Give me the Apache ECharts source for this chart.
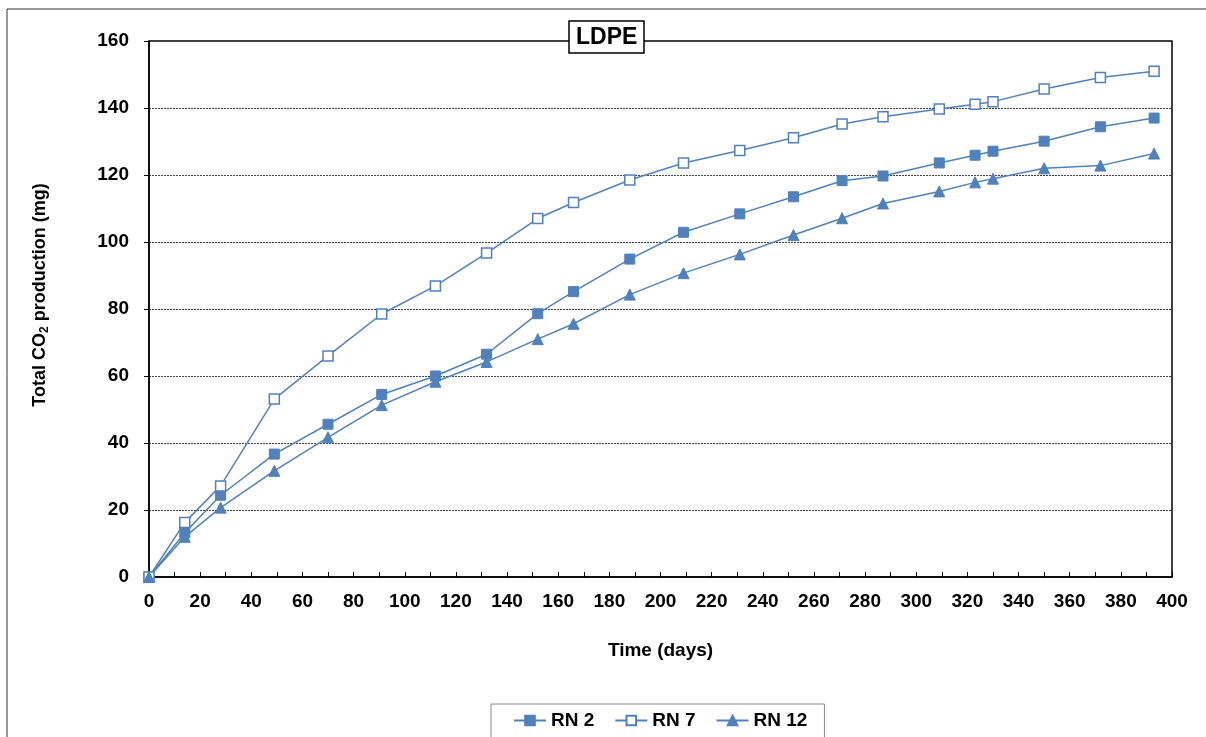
<!DOCTYPE html>
<html>
<head>
<meta charset="utf-8">
<script src="https://cdn.jsdelivr.net/npm/echarts@6/dist/echarts.min.js"></script>
<style>
html,body{margin:0;padding:0;background:#fff;}
#chart{width:1206px;height:737px;}
</style>
</head>
<body>
<div id="chart"></div>
<script>
const days = [0, 14, 28, 49, 70, 91, 112, 132, 152, 166, 188, 209, 231, 252, 271, 287, 309, 323, 330, 350, 372, 393];
const rn2  = [0, 13.2, 24.4, 36.7, 45.6, 54.5, 60.0, 66.5, 78.6, 85.2, 94.9, 102.9, 108.4, 113.5, 118.3, 119.7, 123.6, 125.9, 127.1, 130.1, 134.4, 137.0];
const rn7  = [0, 16.3, 27.2, 53.1, 66.0, 78.5, 86.9, 96.7, 107.0, 111.8, 118.5, 123.6, 127.3, 131.1, 135.2, 137.4, 139.7, 141.1, 141.9, 145.7, 149.1, 151.0];
const rn12 = [0, 12.0, 20.7, 31.7, 41.7, 51.3, 58.3, 64.2, 71.0, 75.6, 84.3, 90.7, 96.3, 102.1, 107.1, 111.5, 115.1, 117.8, 118.9, 122.0, 122.8, 126.4];
const seriesNames = ['RN 2', 'RN 7', 'RN 12'];
const titleText = 'LDPE';
const xName = 'Time (days)';

const FONT = '"Liberation Sans", Arial, sans-serif';
const BLUE = '#4F81BD';
const pair = (arr) => days.map((d, i) => [d, arr[i]]);

const chart = echarts.init(document.getElementById('chart'), null, {renderer: 'canvas'});
chart.setOption({
  animation: false,
  backgroundColor: '#fff',
  textStyle: {fontFamily: FONT},
  title: {
    text: titleText,
    left: 569, top: 21,
    padding: [4, 7, 3, 7],
    backgroundColor: '#fff',
    borderColor: '#000', borderWidth: 1.5,
    textStyle: {fontFamily: FONT, fontSize: 23, fontWeight: 'bold', color: '#000', lineHeight: 25}
  },
  graphic: [{
    type: 'rect', z: -10, silent: true,
    shape: {x: 7, y: 9, width: 1300, height: 800},
    style: {fill: 'none', stroke: '#333', lineWidth: 1}
  }],
  legend: {
    left: 491, top: 704,
    padding: [7, 17, 20, 22],
    itemGap: 20,
    itemWidth: 32, itemHeight: 12,
    borderColor: '#888', borderWidth: 1,
    backgroundColor: '#fff',
    textStyle: {fontFamily: FONT, fontSize: 19, fontWeight: 'bold', color: '#000'},
    data: seriesNames
  },
  grid: {
    left: 149, right: 34, top: 41, bottom: 160,
    show: true, borderColor: '#000', borderWidth: 1.5, backgroundColor: 'transparent'
  },
  xAxis: {
    type: 'value', min: 0, max: 400, interval: 20,
    name: xName, nameLocation: 'middle', nameGap: 64,
    nameTextStyle: {fontFamily: FONT, fontSize: 19, fontWeight: 'bold', color: '#000'},
    axisLine: {show: true, onZero: false, lineStyle: {color: '#000', width: 1.5}},
    axisTick: {show: true, inside: true, length: 5, lineStyle: {color: '#000', width: 1}},
    minorTick: {show: true, splitNumber: 2, length: 5, lineStyle: {color: '#000', width: 1}},
    axisLabel: {fontFamily: FONT, fontSize: 19, fontWeight: 'bold', color: '#000', margin: 15},
    splitLine: {show: false}
  },
  yAxis: {
    type: 'value', min: 0, max: 160, interval: 20,
    name: '{n|Total CO}{s|2}{n| production (mg)}', nameLocation: 'middle', nameGap: 98,
    nameRotate: 90,
    nameTextStyle: {
      fontFamily: FONT, fontSize: 18, fontWeight: 'bold', color: '#000',
      padding: [0, 0, 0, 28],
      rich: {
        n: {fontFamily: FONT, fontSize: 18, fontWeight: 'bold', color: '#000'},
        s: {fontFamily: FONT, fontSize: 12, fontWeight: 'bold', color: '#000', verticalAlign: 'bottom', padding: [9, 0, 0, 0]}
      }
    },
    axisLine: {show: true, lineStyle: {color: '#000', width: 1.5}},
    axisTick: {show: true, inside: false, length: 5, lineStyle: {color: '#000', width: 1}},
    axisLabel: {fontFamily: FONT, fontSize: 19, fontWeight: 'bold', color: '#000', margin: 20},
    splitLine: {show: true, showMinLine: false, showMaxLine: false, lineStyle: {color: '#444', width: 1, type: [2, 1]}}
  },
  series: [
    {
      name: seriesNames[0], type: 'line', data: pair(rn2),
      symbol: 'rect', symbolSize: 10,
      lineStyle: {color: BLUE, width: 1.5},
      itemStyle: {color: BLUE, borderColor: BLUE, borderWidth: 1}
    },
    {
      name: seriesNames[1], type: 'line', data: pair(rn7),
      symbol: 'rect', symbolSize: 10,
      lineStyle: {color: BLUE, width: 1.5},
      itemStyle: {color: '#fff', borderColor: BLUE, borderWidth: 1.5}
    },
    {
      name: seriesNames[2], type: 'line', data: pair(rn12),
      symbol: 'triangle', symbolSize: 11,
      lineStyle: {color: BLUE, width: 1.5},
      itemStyle: {color: BLUE, borderColor: BLUE, borderWidth: 1}
    }
  ]
});
</script>
</body>
</html>
